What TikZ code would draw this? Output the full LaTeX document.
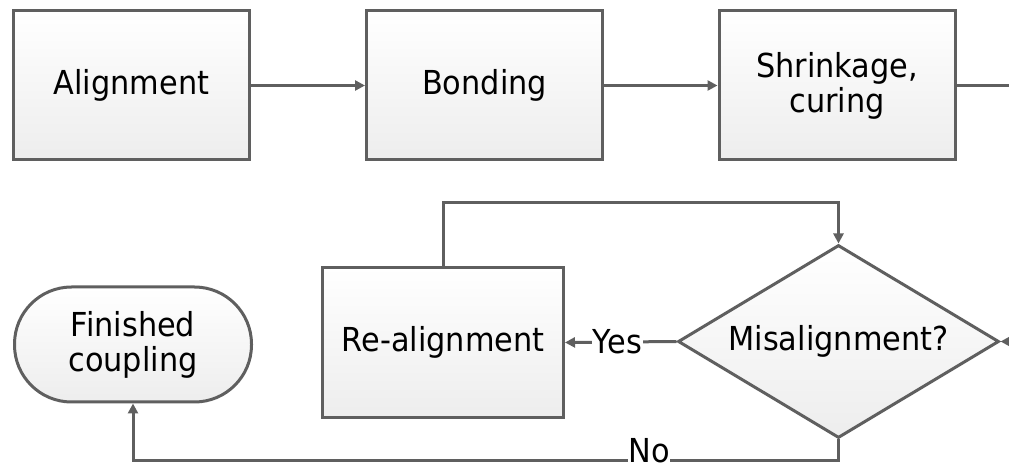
\documentclass[tikz,border=0pt]{standalone}
\usepackage{fontspec}
\setmainfont{DejaVu Sans}[FakeStretch=0.92]
\usetikzlibrary{shapes.geometric,arrows.meta}
\definecolor{edgec}{HTML}{5F5F5F}
\begin{document}
\begin{tikzpicture}[x=0.5pt,y=-0.5pt,
  font=\fontsize{16.5}{17.5}\selectfont,
  base/.style={draw=edgec, line width=1.5pt, top color=white, bottom color=black!7, align=center, inner sep=0pt},
  procbox/.style={base, rectangle, minimum width=118pt, minimum height=74.5pt},
  decide/.style={base, diamond, aspect=1.66, minimum width=160.5pt, minimum height=96.5pt},
  term/.style={base, rectangle, rounded corners=28.5pt, minimum width=118.5pt, minimum height=57.5pt},
  conn/.style={draw=edgec, line width=1.5pt, -{Triangle[length=5pt,width=5pt]}},
  plain/.style={draw=edgec, line width=1.5pt},
  lbl/.style={fill=white, inner xsep=0.5pt, inner ysep=1pt}]
\useasboundingbox (0,0) rectangle (1009,465);
\clip (0,0) rectangle (1009,465);
\node[procbox] (align) at (131.5,85.5) {Alignment};
\node[procbox] (bond) at (484.5,85.5) {Bonding};
\node[procbox] (shrink) at (837,85.5) {Shrinkage,\\curing};
\node[procbox, minimum width=120.5pt, minimum height=75pt] (realign) at (443,342.5) {Re-alignment};
\node[decide] (dia) at (838.5,341.5) {Misalignment?};
\node[term] (fin) at (133,344.5) {Finished\\coupling};
\coordinate (outr) at (1020,85.5);
\coordinate (inr) at (1025,341.5);
\coordinate (looptop) at (640,203);
\coordinate (nobot) at (500,461);
\draw[conn] (align) -- (bond);
\draw[conn] (bond) -- (shrink);
\draw[plain] (shrink.east) -- (outr);
\draw[conn] (inr) -- (dia.east);
\draw[conn] (realign.north) |- (looptop) -| (dia.north);
\draw[conn] (dia.west) -- node[lbl, pos=0.53] (yes) {Yes} (realign.east);
\draw[conn] (dia.south) |- (nobot) -| (fin.south);
\node[fill=white, inner sep=0pt, anchor=base] (no) at (649,462.5) {No};
\end{tikzpicture}
\end{document}
